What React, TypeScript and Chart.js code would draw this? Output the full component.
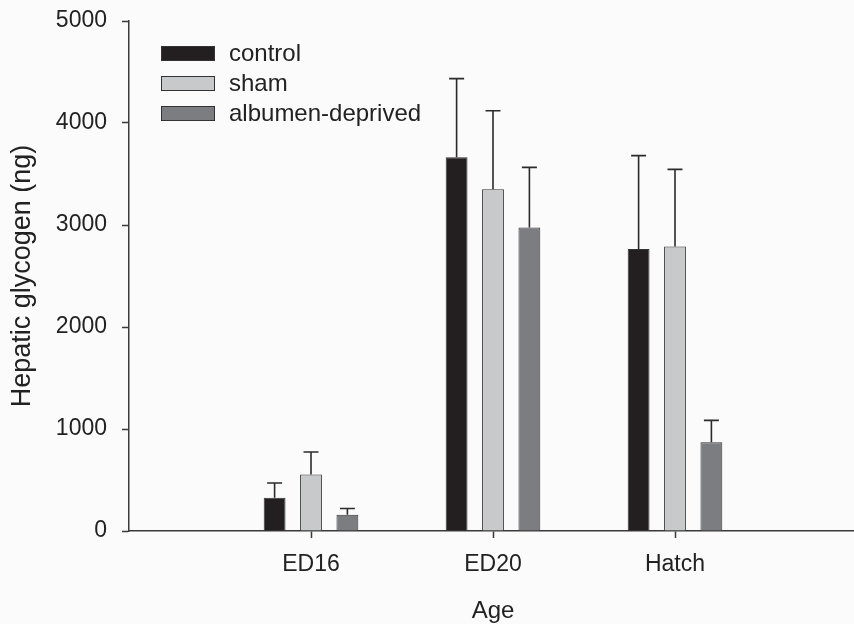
import { useEffect, useRef } from "react";
import { Chart, registerables } from "chart.js";

Chart.register(...registerables);

const categories = ["ED16", "ED20", "Hatch"];
const seriesNames = ["control", "sham", "albumen-deprived"];
const controlMeans = [325, 3665, 2765];
const shamMeans = [555, 3350, 2790];
const albumenMeans = [160, 2975, 870];
const controlErr = [145, 770, 915];
const shamErr = [220, 770, 755];
const albumenErr = [60, 590, 215];
const yTicks = [0, 1000, 2000, 3000, 4000, 5000];

const fillColors = ["#231f20", "#c8c9cb", "#7c7d81"];
const FONT = "'Liberation Sans', Arial, sans-serif";
const INK = "#222222";
const AXIS = "#3a3a3a";

const pad = (arr: any[]) => [null, ...arr, null];

const meansBySeries = [controlMeans, shamMeans, albumenMeans];
const errBySeries = [controlErr, shamErr, albumenErr];

const errorBarPlugin = {
  id: "errorBars",
  afterDatasetsDraw(chart: any) {
    const ctx = chart.ctx;
    const ys = chart.scales.y;
    chart.data.datasets.forEach((ds: any, i: number) => {
      const meta = chart.getDatasetMeta(i);
      const errs = pad(errBySeries[i]);
      meta.data.forEach((el: any, j: number) => {
        const v = ds.data[j];
        const e = errs[j];
        if (v == null || e == null) return;
        const top = ys.getPixelForValue(v + e);
        ctx.save();
        ctx.strokeStyle = "#2b2b2b";
        ctx.lineWidth = 1.6;
        ctx.beginPath();
        ctx.moveTo(el.x, el.y);
        ctx.lineTo(el.x, top);
        ctx.moveTo(el.x - 7.5, top);
        ctx.lineTo(el.x + 7.5, top);
        ctx.stroke();
        ctx.restore();
      });
    });
  },
};

const legendPlugin = {
  id: "insideLegend",
  afterDraw(chart: any) {
    const ctx = chart.ctx;
    const x0 = 161;
    const y0 = 46;
    const rowH = 30;
    const boxW = 54;
    const boxH = 15;
    ctx.save();
    chart.data.datasets.forEach((ds: any, i: number) => {
      const y = y0 + i * rowH;
      ctx.fillStyle = ds.backgroundColor;
      ctx.fillRect(x0, y, boxW, boxH);
      ctx.strokeStyle = "#333333";
      ctx.lineWidth = 1;
      ctx.strokeRect(x0 + 0.5, y + 0.5, boxW - 1, boxH - 1);
      ctx.fillStyle = INK;
      ctx.font = `24px ${FONT}`;
      ctx.textBaseline = "middle";
      ctx.textAlign = "left";
      ctx.fillText(ds.label, 229, y + boxH / 2 + 0.5);
    });
    ctx.restore();
  },
};

export default function App() {
  const ref = useRef<HTMLCanvasElement | null>(null);

  useEffect(() => {
    if (!ref.current) return;
    const labels = ["", ...categories, ""];
    const chart = new Chart(ref.current, {
      type: "bar",
      data: {
        labels,
        datasets: seriesNames.map((name, i) => ({
          label: name,
          data: pad(meansBySeries[i]),
          backgroundColor: fillColors[i],
          borderColor: "#333333",
          borderWidth: 1,
          categoryPercentage: 0.6,
          barPercentage: 0.6,
        })),
      },
      options: {
        responsive: false,
        animation: false,
        devicePixelRatio: 1,
        layout: { padding: { top: 21, left: 0, right: 11, bottom: 0 } },
        plugins: {
          legend: { display: false },
          tooltip: { enabled: false },
        },
        scales: {
          x: {
            type: "category",
            offset: false,
            grid: {
              display: true,
              offset: false,
              drawOnChartArea: false,
              drawTicks: true,
              tickLength: 7,
              tickWidth: 1.5,
              tickColor: (c: any) =>
                c.index === 0 || c.index === labels.length - 1 ? "rgba(0,0,0,0)" : AXIS,
            },
            border: { display: true, color: AXIS, width: 1.5 },
            ticks: {
              color: INK,
              font: { family: FONT, size: 23 },
              padding: 13,
              maxRotation: 0,
              autoSkip: false,
            },
            title: {
              display: true,
              text: "Age",
              color: INK,
              font: { family: FONT, size: 24, lineHeight: 1 },
              padding: { top: 0, bottom: 1 },
            },
            afterFit: (s: any) => {
              s.height = 93;
            },
          },
          y: {
            min: 0,
            max: 5000,
            grid: {
              display: true,
              drawOnChartArea: false,
              drawTicks: true,
              tickLength: 7,
              tickWidth: 1.5,
              tickColor: AXIS,
            },
            border: { display: true, color: AXIS, width: 1.5 },
            ticks: {
              color: INK,
              font: { family: FONT, size: 23, lineHeight: 1 },
              padding: 15,
              callback: (v: any) => String(v),
            },
            afterBuildTicks: (s: any) => {
              s.ticks = yTicks.map((v) => ({ value: v }));
            },
            title: {
              display: true,
              text: "Hepatic glycogen (ng)",
              color: INK,
              font: { family: FONT, size: 27, lineHeight: 1 },
              padding: { top: 9, bottom: 0 },
            },
            afterFit: (s: any) => {
              s.width = 129;
              s.paddingTop = 0;
              s.paddingBottom = 0;
            },
          },
        },
      },
      plugins: [errorBarPlugin, legendPlugin],
    });
    return () => chart.destroy();
  }, []);

  return (
    <div
      style={{
        position: "fixed",
        left: 0,
        top: 0,
        width: 854,
        height: 624,
        overflow: "hidden",
        background: "#fbfbfc",
      }}
    >
      <canvas ref={ref} width={870} height={624} style={{ width: 870, height: 624, display: "block" }} />
    </div>
  );
}
